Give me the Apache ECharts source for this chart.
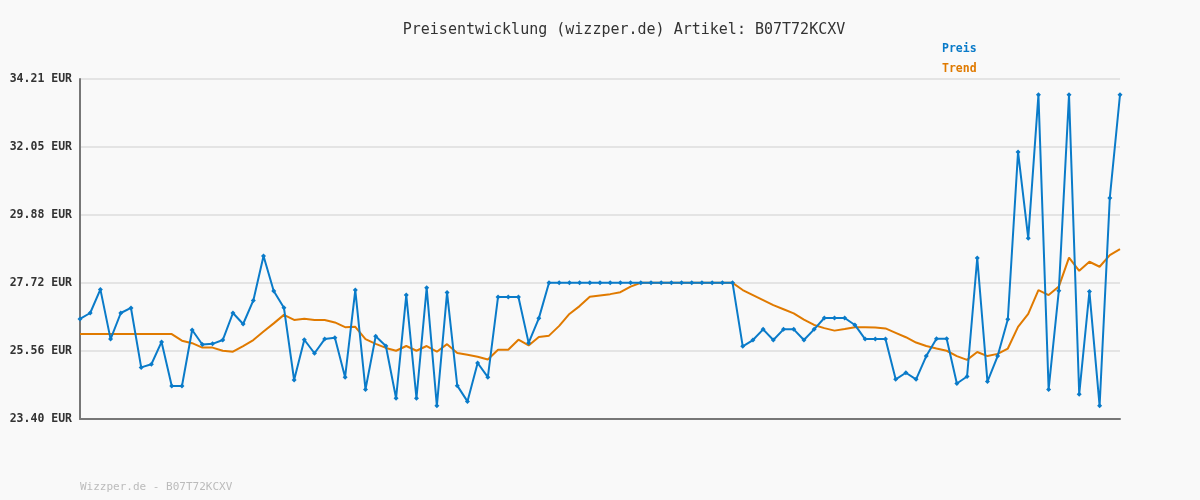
<!DOCTYPE html>
<html>
<head>
<meta charset="utf-8">
<script src="https://cdn.jsdelivr.net/npm/echarts@6/dist/echarts.min.js"></script>
<style>
  html, body { margin: 0; padding: 0; background: #f9f9f9; }
  #chart { width: 1200px; height: 500px; }
</style>
</head>
<body>
<div id="chart"></div>
<script>
const preis = [
  26.58, 26.77, 27.52, 25.94, 26.77, 26.93, 25.04, 25.14, 25.85, 24.45,
  24.45, 26.23, 25.77, 25.79, 25.91, 26.77, 26.42, 27.17, 28.58, 27.47,
  26.94, 24.64, 25.92, 25.49, 25.94, 25.98, 24.73, 27.50, 24.34, 26.03,
  25.72, 24.06, 27.34, 24.06, 27.57, 23.82, 27.42, 24.46, 23.96, 25.18,
  24.73, 27.28, 27.28, 27.28, 25.82, 26.60, 27.73, 27.73, 27.73, 27.73,
  27.73, 27.73, 27.73, 27.73, 27.73, 27.73, 27.73, 27.73, 27.73, 27.73,
  27.73, 27.73, 27.73, 27.73, 27.73, 25.71, 25.91, 26.25, 25.91, 26.25,
  26.25, 25.91, 26.25, 26.61, 26.61, 26.61, 26.39, 25.94, 25.94, 25.94,
  24.66, 24.87, 24.66, 25.40, 25.95, 25.95, 24.53, 24.75, 28.52, 24.59,
  25.40, 26.57, 31.89, 29.15, 33.71, 24.34, 27.48, 33.71, 24.19, 27.45,
  23.82, 30.43, 33.71
];

const trend = [
  26.10, 26.10, 26.10, 26.10, 26.10, 26.10, 26.10, 26.10, 26.10, 26.10,
  25.89, 25.81, 25.67, 25.67, 25.57, 25.54, 25.72, 25.91, 26.18, 26.44,
  26.71, 26.55, 26.59, 26.55, 26.55, 26.47, 26.32, 26.33, 25.94, 25.79,
  25.66, 25.57, 25.72, 25.57, 25.72, 25.54, 25.78, 25.50, 25.44, 25.38,
  25.29, 25.60, 25.60, 25.92, 25.74, 26.01, 26.05, 26.36, 26.74, 26.99,
  27.29, 27.33, 27.37, 27.43, 27.61, 27.73, 27.73, 27.73, 27.73, 27.73,
  27.73, 27.73, 27.73, 27.73, 27.73, 27.50, 27.34, 27.18, 27.02, 26.89,
  26.76, 26.56, 26.39, 26.29, 26.21, 26.26, 26.32, 26.32, 26.31, 26.28,
  26.14, 26.00, 25.83, 25.72, 25.64, 25.57, 25.40, 25.28, 25.53, 25.40,
  25.47, 25.64, 26.33, 26.74, 27.50, 27.34, 27.61, 28.53, 28.11, 28.40,
  28.24, 28.61, 28.80
];

const yTickLabels = ["23.40", "25.56", "27.72", "29.88", "32.05", "34.21"];
const yMin = 23.40;
const yMax = 34.21;

const categories = preis.map((_, i) => String(i + 1));

const blue = "#0a7bc9";
const orange = "#e07a00";
const mono = "DejaVu Sans Mono";

const chart = echarts.init(document.getElementById("chart"));
chart.setOption({
  animation: false,
  backgroundColor: "#f9f9f9",
  title: {
    text: "Preisentwicklung (wizzper.de) Artikel: B07T72KCXV",
    left: 619,
    textAlign: "center",
    top: 18,
    textStyle: { fontFamily: mono, fontSize: 15, fontWeight: "normal", color: "#333" },
  },
  legend: {
    orient: "vertical",
    left: 932,
    top: 38,
    itemWidth: 0,
    itemHeight: 0,
    itemGap: 8,
    icon: "none",
    selectedMode: false,
    textStyle: { fontFamily: mono, fontSize: 11.5, fontWeight: "bold" },
    data: [
      { name: "Preis", textStyle: { color: blue } },
      { name: "Trend", textStyle: { color: orange } },
    ],
  },
  graphic: [
    {
      type: "text",
      left: 80,
      top: 482,
      style: { text: "Wizzper.de - B07T72KCXV", fill: "#bbb", font: "11px " + mono },
    },
  ],
  grid: { left: 80, right: 80, top: 79, bottom: 81, containLabel: false },
  xAxis: {
    type: "category",
    data: categories,
    boundaryGap: false,
    axisLine: { lineStyle: { color: "#777", width: 2 } },
    axisTick: { show: false },
    axisLabel: { show: false },
    splitLine: { show: false },
  },
  yAxis: [
    {
      type: "value",
      min: 0,
      max: yTickLabels.length - 1,
      interval: 1,
      axisLine: { show: true, lineStyle: { color: "#777", width: 2 } },
      axisTick: { show: false },
      axisLabel: {
        margin: 8,
        fontFamily: mono,
        fontSize: 11.5,
        fontWeight: "bold",
        color: "#333",
        formatter: (v) => yTickLabels[Math.round(v)] + " EUR",
      },
      splitLine: { show: true, lineStyle: { color: "#e4e4e4", width: 2 } },
    },
    {
      type: "value",
      min: yMin,
      max: yMax,
      show: false,
      splitLine: { show: false },
    },
  ],
  series: [
    {
      name: "Trend",
      type: "line",
      yAxisIndex: 1,
      data: trend,
      showSymbol: false,
      symbol: "none",
      lineStyle: { color: orange, width: 2 },
      itemStyle: { color: orange },
      z: 2,
    },
    {
      name: "Preis",
      type: "line",
      yAxisIndex: 1,
      data: preis,
      symbol: "diamond",
      symbolSize: 5,
      lineStyle: { color: blue, width: 2 },
      itemStyle: { color: blue },
      z: 3,
    },
  ],
});
</script>
</body>
</html>
